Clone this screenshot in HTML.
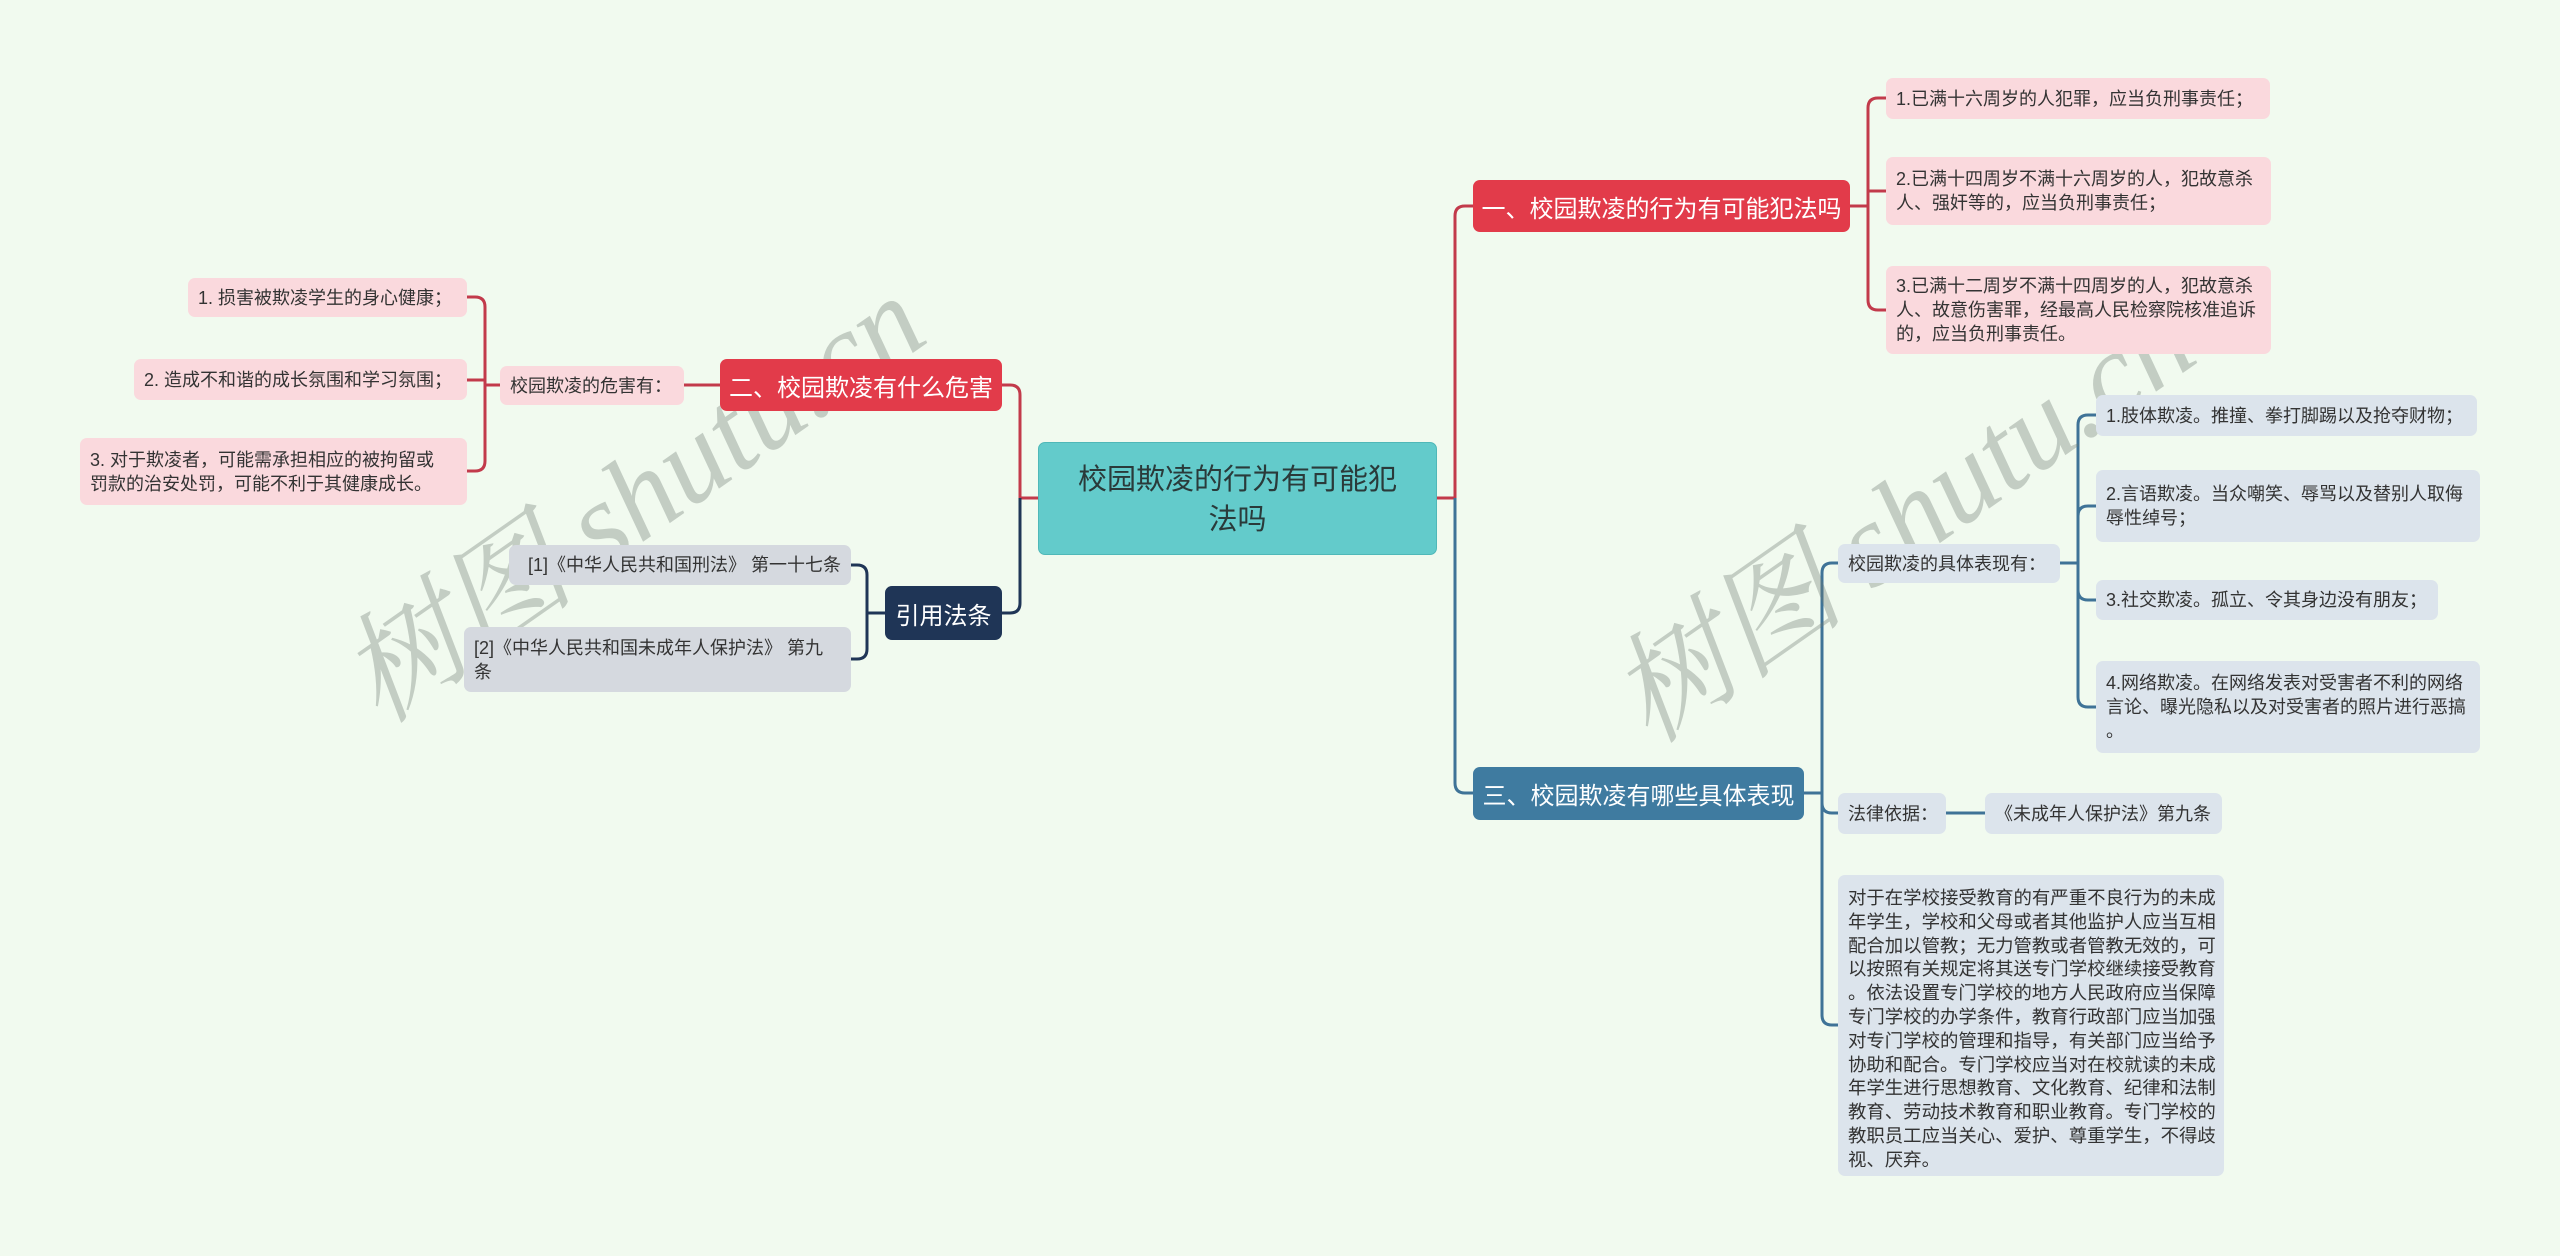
<!DOCTYPE html>
<html><head><meta charset="utf-8">
<style>
body{margin:0;width:2560px;height:1256px;background:#f1faef;overflow:hidden;position:relative;font-family:"Liberation Sans","Noto Sans CJK SC",sans-serif;}
.n{position:absolute;box-sizing:border-box;border-radius:7px;white-space:nowrap;color:#333;}
.leafr{background:#fad9dd;font-size:18px;line-height:24px;padding:0 10px;display:flex;align-items:center;}
.leafb{background:#dce4ec;font-size:18px;line-height:24px;padding:0 10px;display:flex;align-items:center;}
.leafg{background:#d5d9df;font-size:18px;line-height:24px;padding:0 10px;display:flex;align-items:center;}
.br{color:#fff;font-size:24px;display:flex;align-items:center;justify-content:center;}
.wm{position:absolute;font-family:"Liberation Serif","Noto Serif CJK SC",serif;font-style:italic;font-size:120px;color:rgba(110,120,115,0.35);transform:rotate(-35deg);white-space:nowrap;}
</style></head><body>
<svg width="2560" height="1256" style="position:absolute;left:0;top:0" fill="none" stroke-width="3">
<g stroke="#c23a4b">
<path d="M1437 498 H1455 V216 Q1455 206 1465 206 H1473"/>
<path d="M1038 498 H1020 V395 Q1020 385 1010 385 H1002"/>
<path d="M1850 206 H1868 V108 Q1868 98 1878 98 H1886"/>
<path d="M1868 206 V191 H1886"/>
<path d="M1868 206 V300 Q1868 310 1878 310 H1886"/>
<path d="M720 385 H684"/>
<path d="M500 385 H485 V307 Q485 297 475 297 H467"/>
<path d="M485 385 V380 H467"/>
<path d="M485 385 V461 Q485 471 475 471 H467"/>
</g>
<g stroke="#3f7397">
<path d="M1455 498 V783 Q1455 793 1465 793 H1473"/>
<path d="M1804 793 H1822 V573 Q1822 563 1832 563 H1838"/>
<path d="M1822 793 V803 Q1822 813 1832 813 H1838"/>
<path d="M1822 793 V1015 Q1822 1025 1832 1025 H1838"/>
<path d="M2060 563 H2078 V425 Q2078 415 2088 415 H2096"/>
<path d="M2078 563 V516 Q2078 506 2088 506 H2096"/>
<path d="M2078 563 V590 Q2078 600 2088 600 H2096"/>
<path d="M2078 563 V697 Q2078 707 2088 707 H2096"/>
<path d="M1946 813 H1985"/>
</g>
<g stroke="#1f3556">
<path d="M1020 498 V603 Q1020 613 1010 613 H1002"/>
<path d="M885 613 H867 V575 Q867 565 857 565 H851"/>
<path d="M867 613 V649 Q867 659 857 659 H851"/>
</g>
</svg>

<div class="wm" style="left:290px;top:405px;">树图 shutu.cn</div>
<div class="wm" style="left:1560px;top:425px;">树图 shutu.cn</div>

<div class="n" style="left:1038px;top:442px;width:399px;height:113px;background:#63cbcb;border:1px solid #4fb8b8;font-size:29px;line-height:40px;text-align:center;padding-top:17px;color:#2a3a3a;">校园欺凌的行为有可能犯<br>法吗</div>

<div class="n br" style="left:1473px;top:180px;width:377px;height:52px;background:#e23b4a;">一、校园欺凌的行为有可能犯法吗</div>
<div class="n leafr" style="left:1886px;top:78px;width:384px;height:41px;">1.已满十六周岁的人犯罪，应当负刑事责任；</div>
<div class="n leafr" style="left:1886px;top:157px;width:385px;height:68px;">2.已满十四周岁不满十六周岁的人，犯故意杀<br>人、强奸等的，应当负刑事责任；</div>
<div class="n leafr" style="left:1886px;top:266px;width:385px;height:88px;">3.已满十二周岁不满十四周岁的人，犯故意杀<br>人、故意伤害罪，经最高人民检察院核准追诉<br>的，应当负刑事责任。</div>

<div class="n br" style="left:720px;top:359px;width:282px;height:52px;background:#e23b4a;">二、校园欺凌有什么危害</div>
<div class="n leafr" style="left:500px;top:366px;width:184px;height:39px;">校园欺凌的危害有：</div>
<div class="n leafr" style="left:188px;top:278px;width:279px;height:39px;">1. 损害被欺凌学生的身心健康；</div>
<div class="n leafr" style="left:134px;top:359px;width:333px;height:41px;">2. 造成不和谐的成长氛围和学习氛围；</div>
<div class="n leafr" style="left:80px;top:438px;width:387px;height:67px;">3. 对于欺凌者，可能需承担相应的被拘留或<br>罚款的治安处罚，可能不利于其健康成长。</div>

<div class="n br" style="left:885px;top:586px;width:117px;height:54px;background:#1f3556;">引用法条</div>
<div class="n leafg" style="left:509px;top:545px;width:342px;height:40px;justify-content:flex-end;">[1]《中华人民共和国刑法》 第一十七条</div>
<div class="n leafg" style="left:464px;top:627px;width:387px;height:65px;">[2]《中华人民共和国未成年人保护法》 第九<br>条</div>

<div class="n br" style="left:1473px;top:767px;width:331px;height:53px;background:#3f7ba0;">三、校园欺凌有哪些具体表现</div>
<div class="n leafb" style="left:1838px;top:544px;width:222px;height:39px;">校园欺凌的具体表现有：</div>
<div class="n leafb" style="left:2096px;top:395px;width:381px;height:41px;">1.肢体欺凌。推撞、拳打脚踢以及抢夺财物；</div>
<div class="n leafb" style="left:2096px;top:470px;width:384px;height:72px;">2.言语欺凌。当众嘲笑、辱骂以及替别人取侮<br>辱性绰号；</div>
<div class="n leafb" style="left:2096px;top:580px;width:342px;height:40px;">3.社交欺凌。孤立、令其身边没有朋友；</div>
<div class="n leafb" style="left:2096px;top:661px;width:384px;height:92px;">4.网络欺凌。在网络发表对受害者不利的网络<br>言论、曝光隐私以及对受害者的照片进行恶搞<br>。</div>
<div class="n leafb" style="left:1838px;top:793px;width:108px;height:41px;">法律依据：</div>
<div class="n leafb" style="left:1985px;top:793px;width:237px;height:41px;">《未成年人保护法》第九条</div>
<div class="n leafb" style="left:1838px;top:875px;width:386px;height:301px;font-size:18.4px;line-height:23.8px;padding:11px 10px;align-items:flex-start;">对于在学校接受教育的有严重不良行为的未成<br>年学生，学校和父母或者其他监护人应当互相<br>配合加以管教；无力管教或者管教无效的，可<br>以按照有关规定将其送专门学校继续接受教育<br>。依法设置专门学校的地方人民政府应当保障<br>专门学校的办学条件，教育行政部门应当加强<br>对专门学校的管理和指导，有关部门应当给予<br>协助和配合。专门学校应当对在校就读的未成<br>年学生进行思想教育、文化教育、纪律和法制<br>教育、劳动技术教育和职业教育。专门学校的<br>教职员工应当关心、爱护、尊重学生，不得歧<br>视、厌弃。</div>
</body></html>
